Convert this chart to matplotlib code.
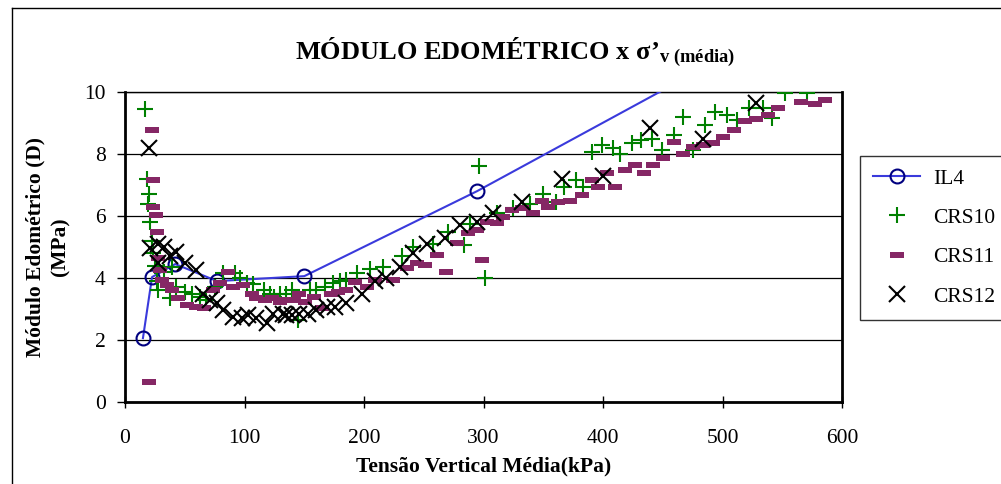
import matplotlib
matplotlib.use("Agg")
import matplotlib.pyplot as plt
from matplotlib.lines import Line2D

plt.rcParams['font.family'] = ['Liberation Serif', 'DejaVu Serif']
plt.rcParams['mathtext.fontset'] = 'custom'
plt.rcParams['mathtext.rm'] = 'Liberation Serif:bold'
plt.rcParams['mathtext.it'] = 'Liberation Serif:bold'
plt.rcParams['mathtext.bf'] = 'Liberation Serif:bold'

# ----------------------------
# DATA
# ----------------------------
il4_x = [15, 22.6, 42, 77, 150, 294.5, 600]
il4_y = [2.06, 4.03, 4.45, 3.9, 4.06, 6.8, 13.2]

crs10_x = [17, 18, 19.5, 20, 21, 22.5, 23.5, 25, 26.5, 27.5, 33, 38, 39, 43, 50, 56, 63, 68,
           75, 82, 92, 96, 102, 107, 116, 121, 125, 130, 135, 140, 145, 155, 160, 167, 174,
           180, 185, 194, 205, 216, 232, 241, 258, 270, 284, 289, 296, 301, 311, 325, 339,
           350, 361, 367, 377, 383, 391, 399, 408, 414, 424, 432, 441, 449, 459, 467, 475,
           485, 494, 504, 512, 522, 534, 541, 552, 571]
crs10_y = [9.45, 7.2, 6.4, 6.7, 5.8, 5.2, 4.8, 4.4, 3.9, 3.6, 4.2, 3.35, 4.35, 3.7, 3.55, 3.5,
           3.4, 3.3, 3.7, 4.15, 4.15, 4.0, 3.85, 3.8, 3.6, 3.5, 3.4, 3.5, 3.5, 3.6, 2.65, 3.6,
           3.6, 3.7, 3.85, 3.9, 3.95, 4.15, 4.3, 4.35, 4.7, 5.0, 5.1, 5.5, 5.05, 5.75, 7.6, 4.0,
           6.1, 6.25, 6.4, 6.7, 6.45, 6.95, 7.15, 6.95, 8.07, 8.3, 8.2, 8.0, 8.35, 8.45, 8.5,
           8.13, 8.6, 9.2, 8.13, 8.94, 9.35, 9.26, 9.1, 9.48, 9.5, 9.16, 9.97, 9.97]

crs11_x = [20, 22.5, 23.5, 23.5, 26, 26.5, 27.5, 29, 31, 35, 39, 44, 52, 59, 66, 74, 79.5, 86,
           90, 99, 106, 110, 117, 123, 130, 135, 141, 146, 151, 158, 165, 172, 178, 185,
           192.5, 202.5, 209, 224, 236, 244, 251, 261, 269, 278, 287, 294.5, 299, 303, 311,
           316, 324, 332, 341, 349, 354, 362, 372, 382, 391, 396, 403, 410, 418, 427, 434,
           442, 450, 459, 467, 475, 484, 492, 500, 510, 519, 528, 538, 546, 566, 577, 586]
crs11_y = [0.65, 8.77, 7.16, 6.3, 6.03, 5.5, 4.65, 4.26, 3.93, 3.77, 3.6, 3.35, 3.13, 3.07,
           3.03, 3.6, 3.84, 4.2, 3.7, 3.77, 3.5, 3.35, 3.3, 3.35, 3.23, 3.3, 3.3, 3.5, 3.23,
           3.4, 3.03, 3.5, 3.55, 3.6, 3.87, 3.7, 3.93, 3.93, 4.32, 4.48, 4.42, 4.74, 4.2, 5.13,
           5.45, 5.55, 4.58, 5.8, 5.77, 5.97, 6.2, 6.26, 6.1, 6.5, 6.3, 6.45, 6.5, 6.68, 7.16,
           6.95, 7.4, 6.95, 7.5, 7.65, 7.4, 7.65, 7.87, 8.4, 8.0, 8.23, 8.3, 8.35, 8.55, 8.77,
           9.06, 9.13, 9.26, 9.48, 9.68, 9.6, 9.74]

crs12_x = [20, 21, 28, 28, 33, 38, 43, 50, 59, 65, 71, 77, 82, 90, 98, 103, 110, 119, 124,
           132, 135, 140, 146, 153, 160, 169, 176, 185, 198, 209, 218, 230, 241, 253, 268,
           280, 294.5, 308, 332, 366, 400, 439, 484, 528]
crs12_y = [8.2, 4.97, 5.1, 4.5, 5.0, 4.7, 4.85, 4.5, 4.26, 3.5, 3.3, 3.2, 2.97, 2.75, 2.7,
           2.8, 2.7, 2.55, 2.85, 2.85, 2.8, 2.8, 2.85, 2.85, 2.97, 3.07, 3.05, 3.2, 3.5, 3.9,
           4.0, 4.35, 4.8, 5.1, 5.3, 5.7, 5.8, 6.1, 6.45, 7.2, 7.3, 8.84, 8.5, 9.65]

x_ticks = [0, 100, 200, 300, 400, 500, 600]
y_ticks = [0, 2, 4, 6, 8, 10]

# ----------------------------
# PLOT
# ----------------------------
fig = plt.figure(figsize=(10.01, 4.84), dpi=100)
ax = fig.add_axes([0.1249, 0.1694, 0.7163, 0.6405])

rect_marker = [(-1, -0.5), (1, -0.5), (1, 0.5), (-1, 0.5), (-1, -0.5)]

ax.plot(il4_x, il4_y, color='#3a3adc', lw=1.5, marker='o', ms=10, mfc='none',
        mec='#000080', mew=1.5, label='IL4', zorder=3)
ax.plot(crs10_x, crs10_y, ls='none', marker='+', ms=11, mew=1.5, color='#008000',
        label='CRS10', zorder=4)
ax.plot(crs11_x, crs11_y, ls='none', marker=rect_marker, ms=10, mew=0, color='#852765',
        label='CRS11', zorder=4)
ax.plot(crs12_x, crs12_y, ls='none', marker='x', ms=11, mew=1.5, color='black',
        label='CRS12', zorder=5)

ax.set_xlim(0, 600)
ax.set_ylim(0, 10)
ax.set_xticks(x_ticks)
ax.set_yticks(y_ticks)
ax.yaxis.grid(True, color='black', lw=0.9)
ax.set_axisbelow(True)
ax.tick_params(axis='x', direction='inout', length=9, width=1, labelsize=15.5, pad=15)
ax.tick_params(axis='y', direction='out', length=6, width=1, labelsize=15.5, pad=8)

for s in ['left', 'bottom', 'right']:
    ax.spines[s].set_linewidth(2)
ax.spines['top'].set_linewidth(1)

ax.set_xlabel('Tensão Vertical Média(kPa)', fontsize=15.5, fontweight='bold', labelpad=6)
ax.set_ylabel('Módulo Edométrico (D)\n(MPa)', fontsize=15.5, fontweight='bold', labelpad=10,
              linespacing=1.3)

fig.text(0.515, 0.892, "MÓDULO EDOMÉTRICO x σ’$_{\\mathrm{v\\ (média)}}$", ha='center',
         va='center', fontsize=19, fontweight='bold')

ax.legend(loc='upper left', bbox_to_anchor=(1.025, 0.795), fontsize=15.5, frameon=True,
          fancybox=False, edgecolor='black', borderpad=0.6, labelspacing=0.9,
          handlelength=2.2, handletextpad=0.6, borderaxespad=0)

# outer chart frame
fig.add_artist(Line2D([12 / 1001, 12 / 1001], [0, 1 - 8 / 484], transform=fig.transFigure,
                      color='black', lw=1))
fig.add_artist(Line2D([12 / 1001, 1], [1 - 8 / 484, 1 - 8 / 484], transform=fig.transFigure,
                      color='black', lw=1))

fig.savefig('out.png', dpi=100)
